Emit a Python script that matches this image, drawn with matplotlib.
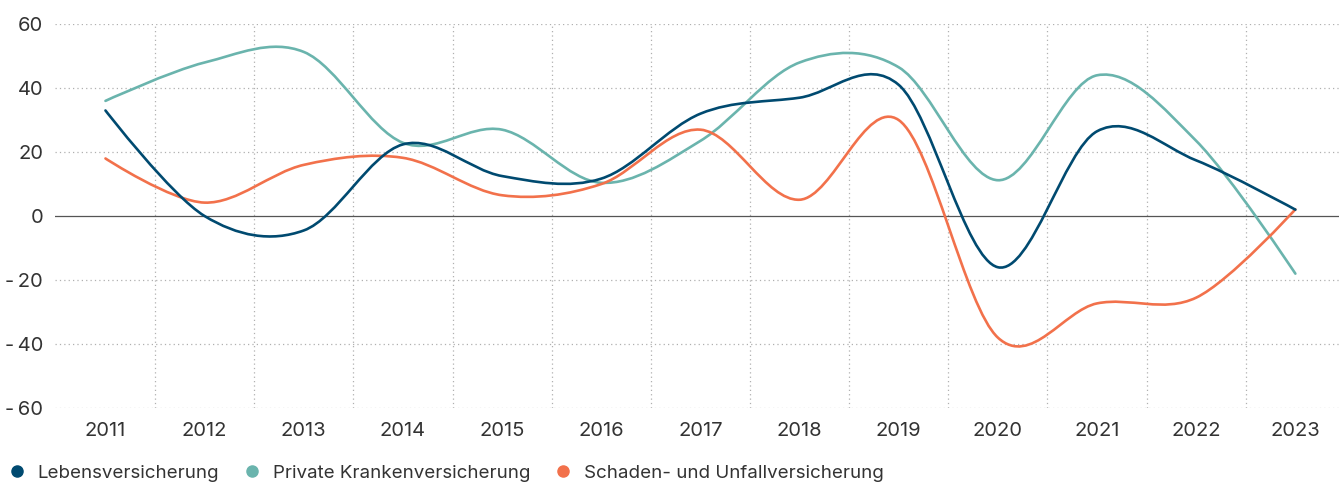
import numpy as np
import matplotlib
matplotlib.use("Agg")
import matplotlib.pyplot as plt
from matplotlib.lines import Line2D
from matplotlib.path import Path
from matplotlib.patches import PathPatch

plt.rcParams["font.family"] = ["Inter", "DejaVu Sans"]

years = np.arange(2011, 2024)
leben = [33, 0, -4.5, 22.4, 12.5, 11.7, 32, 37, 41, -16, 26.5, 17.4, 2]
kranken = [36, 48, 51.3, 22.9, 27, 10.4, 23.5, 48, 46.5, 11.2, 44, 23.5, -18]
schaden = [18, 4.2, 16, 18.2, 6.5, 10, 27, 5.1, 30, -38, -27.3, -25.5, 2.1]

labels = ["Lebensversicherung", "Private Krankenversicherung", "Schaden- und Unfallversicherung"]
colors = ["#004a70", "#6ab4ad", "#f2714b"]
yticks = [-60, -40, -20, 0, 20, 40, 60]


def cardinal_path(x, y, k=1 / 6):
    # catmull-rom style bezier path through the points (ends like d3's cardinal curve)
    p = np.column_stack([x, y]).astype(float)
    n = len(p)
    verts = [p[0]]
    codes = [Path.MOVETO]
    for i in range(n - 1):
        prev = p[i - 1] if i > 0 else p[i + 1]
        nxt = p[i + 2] if i + 2 < n else p[i]
        c1 = p[i] + k * (p[i + 1] - prev) if i > 0 else p[i]
        c2 = p[i + 1] - k * (nxt - p[i]) if i + 2 < n else p[i + 1]
        verts += [c1, c2, p[i + 1]]
        codes += [Path.CURVE4] * 3
    return Path(verts, codes)


fig = plt.figure(figsize=(13.39, 4.82), dpi=100)
ax = fig.add_axes([0.041, 0.1535, 0.959, 0.7965])

for vals, c in zip([kranken, schaden, leben], [colors[1], colors[2], colors[0]]):
    ax.add_patch(PathPatch(cardinal_path(years, vals), facecolor="none", edgecolor=c,
                           lw=1.9, capstyle="round", zorder=3))

ax.set_xlim(2010.49, 2023.44)
ax.set_ylim(-60, 60)

for yv in yticks:
    if yv == 0:
        ax.axhline(0, color="#555555", lw=0.9, zorder=2)
    else:
        ax.axhline(yv, color="#b0b0b0", lw=0.9, ls=(0, (1, 2.5)), zorder=1)
for xv in years[:-1] + 0.5:
    ax.axvline(xv, color="#b0b0b0", lw=0.9, ls=(0, (1, 2.5)), zorder=1)

for s in ax.spines.values():
    s.set_visible(False)

ax.set_xticks(years)
ax.set_xticklabels([str(y) for y in years])
ax.set_yticks(yticks)
ax.set_yticklabels([("-\u2009" + str(abs(v))) if v < 0 else str(v) for v in yticks])
ax.tick_params(axis="both", length=0, labelsize=14.5, labelcolor="#333333")
ax.tick_params(axis="x", pad=10)
ax.tick_params(axis="y", pad=8.5)

handles = [Line2D([], [], ls="", marker="o", ms=8, color=c) for c in colors]
fig.legend(handles, labels, loc="lower left", bbox_to_anchor=(0.0, -0.023), ncol=3,
           frameon=False, fontsize=13.5, labelcolor="#333333", handlelength=0.6,
           handletextpad=0.8, columnspacing=1.45, borderaxespad=0.2)

fig.savefig("out.png", dpi=100)
